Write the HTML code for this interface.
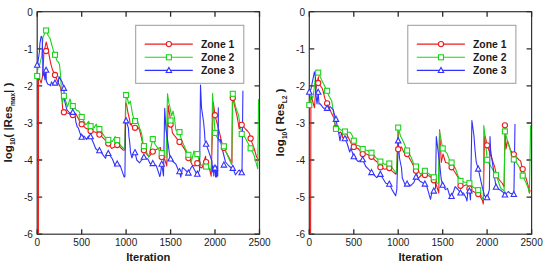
<!DOCTYPE html>
<html><head><meta charset="utf-8"><style>
html,body{margin:0;padding:0;background:#fff;}
body{width:544px;height:265px;overflow:hidden;}
svg{display:block;}
text{font-family:"Liberation Sans",sans-serif;fill:#1a1a1a;}
.tl{font-size:10px;}
.ax{font-size:11.2px;font-weight:bold;}
.lg{font-size:10.4px;font-weight:bold;}
.yl{font-size:11.6px;font-weight:bold;}
.sub{font-size:6.6px;}
</style></head><body>
<svg width="544" height="265" viewBox="0 0 544 265">
<rect width="544" height="265" fill="#fff"/>
<rect x="37.2" y="11.7" width="222.3" height="222.5" fill="none" stroke="#333" stroke-width="1.2"/>
<path d="M37.2 234.2V229.2M37.2 11.7V16.7M81.7 234.2V229.2M81.7 11.7V16.7M126.1 234.2V229.2M126.1 11.7V16.7M170.6 234.2V229.2M170.6 11.7V16.7M215.0 234.2V229.2M215.0 11.7V16.7M259.5 234.2V229.2M259.5 11.7V16.7M37.2 11.7H42.2M259.5 11.7H254.5M37.2 48.8H42.2M259.5 48.8H254.5M37.2 85.9H42.2M259.5 85.9H254.5M37.2 123.0H42.2M259.5 123.0H254.5M37.2 160.0H42.2M259.5 160.0H254.5M37.2 197.1H42.2M259.5 197.1H254.5M37.2 234.2H42.2M259.5 234.2H254.5" stroke="#2b2b2b" stroke-width="1.3" fill="none"/>
<g fill="none" stroke-width="1.1" stroke-linejoin="round">
<polyline stroke="#ec1c1c" points="38.4,233.6 38.5,76.5 41.2,83.0 42.6,75.8 44.0,52.0 46.2,42.0 48.2,50.0 49.0,54.7 50.8,63.8 52.6,70.1 55.0,75.0 58.0,82.3 60.5,87.5 61.8,95.0 62.6,108.2 64.0,112.6 67.5,113.0 70.0,114.0 72.6,115.1 75.9,113.7 79.4,120.7 81.6,124.1 85.8,128.3 88.0,129.0 90.6,131.0 94.2,131.8 97.0,133.0 99.5,134.6 102.6,137.3 106.0,141.0 108.4,143.6 111.7,148.5 114.5,147.0 117.2,145.0 120.0,147.0 123.5,150.3 124.8,150.0 125.6,102.8 126.5,104.0 128.0,113.0 129.5,119.0 130.3,125.0 131.2,123.5 132.2,126.5 135.0,127.8 137.5,126.5 139.6,130.0 141.6,138.4 143.9,150.3 146.5,154.0 149.3,156.5 152.8,151.6 156.3,149.5 160.5,147.5 161.0,154.0 161.7,157.2 164.7,159.3 166.8,166.0 168.2,105.5 170.6,120.1 172.4,132.8 174.5,135.6 179.5,141.9 182.2,145.4 185.6,150.9 187.5,157.0 189.6,159.6 192.4,165.2 195.0,166.0 197.3,163.1 199.4,159.0 200.0,167.3 202.0,168.0 205.6,156.2 206.3,163.8 209.8,170.1 211.2,176.2 213.3,102.4 215.2,116.4 217.5,124.8 220.3,136.0 222.4,145.0 224.0,148.0 226.0,152.0 232.0,163.1 232.4,96.2 237.1,116.4 239.2,129.0 241.8,124.8 245.5,129.0 247.6,131.0 249.6,133.8 250.8,139.4 254.0,148.0 256.6,157.0 259.2,161.0"/>
<polyline stroke="#1ad41a" points="36.9,76.3 38.5,63.5 39.4,66.0 41.7,56.0 43.0,37.0 44.4,34.3 46.2,30.3 48.0,35.2 49.9,38.0 50.8,41.0 52.1,46.1 53.8,51.8 55.2,55.3 57.1,61.1 58.3,62.0 59.5,64.5 60.4,73.0 60.9,80.0 61.4,92.6 62.0,100.0 62.6,102.6 64.0,95.3 67.5,106.8 70.0,99.0 71.7,105.4 72.8,106.0 76.6,110.2 78.7,111.0 81.7,117.1 85.8,124.8 88.6,121.3 90.6,126.2 94.2,127.6 96.3,124.1 97.7,128.3 99.5,129.0 103.3,134.6 106.1,138.7 108.4,139.9 112.4,141.5 115.2,136.6 117.2,140.1 120.1,145.0 123.5,148.5 124.8,148.0 126.1,94.9 127.5,99.0 128.8,104.0 130.3,101.0 131.5,108.0 132.6,114.6 134.0,119.0 135.0,121.0 137.5,121.0 139.6,128.0 141.6,133.5 143.0,142.6 143.9,146.1 146.5,152.0 148.6,157.2 152.8,139.1 155.5,145.0 160.5,151.6 161.7,153.0 164.7,157.2 166.1,157.0 167.5,93.7 168.9,103.4 169.6,105.6 171.6,116.0 173.0,111.1 174.5,118.0 175.8,130.0 179.5,132.1 181.5,140.0 187.0,152.3 188.4,154.9 191.2,162.1 194.0,151.0 197.3,154.1 199.4,161.0 201.0,165.0 206.2,166.6 208.5,167.5 211.2,170.1 212.6,93.4 213.5,110.0 215.1,133.8 218.9,140.1 220.0,142.0 224.0,146.4 226.0,152.0 231.5,164.5 232.9,93.6 235.7,107.3 238.5,115.0 241.8,134.5 245.0,137.3 250.7,148.5 254.0,155.0 257.7,168.7 258.6,99.0"/>
<polyline stroke="#3232ff" points="37.2,65.1 38.1,61.0 39.4,52.0 39.9,43.4 41.2,36.2 42.2,38.0 42.6,52.0 43.0,76.0 44.0,72.0 45.0,80.0 45.5,71.0 46.1,70.2 46.3,81.0 47.6,84.0 49.9,85.0 50.3,85.8 51.5,81.8 52.9,84.2 55.0,83.0 58.0,84.2 59.0,76.6 62.3,82.3 63.9,88.4 64.2,95.0 64.0,98.4 66.8,109.6 69.6,113.0 72.8,112.3 75.2,116.5 75.9,122.1 77.3,127.0 78.2,127.6 80.0,133.0 81.7,137.3 84.0,136.0 86.5,139.4 88.5,136.0 90.6,136.6 93.5,143.0 95.6,148.5 97.0,149.9 99.5,150.6 102.0,153.4 105.4,158.3 107.5,152.7 108.4,153.4 112.4,159.0 115.2,166.0 117.2,163.9 120.0,165.4 121.5,169.4 124.2,177.1 124.9,176.5 125.6,120.6 126.1,120.7 128.4,128.0 129.0,137.0 129.8,143.0 130.5,152.3 131.9,157.9 133.3,154.0 135.0,152.5 136.8,160.0 139.6,162.8 141.6,160.0 143.0,159.0 143.9,157.2 147.9,159.0 150.0,163.5 152.8,163.5 156.3,165.6 159.8,176.5 160.5,174.0 161.7,164.0 163.5,176.0 164.7,108.3 166.0,130.0 168.2,144.0 169.6,155.0 170.6,159.0 173.5,162.0 175.9,164.2 178.7,171.0 179.5,171.6 180.8,177.2 182.5,167.5 185.0,169.6 188.4,173.0 191.0,167.8 192.4,165.7 196.0,172.7 197.3,174.1 198.7,172.0 199.6,170.0 200.5,85.0 201.5,107.6 203.6,122.0 204.5,132.0 205.0,140.8 206.2,144.3 208.4,150.6 211.9,161.0 212.6,172.0 213.2,166.0 213.8,176.0 214.4,167.0 215.1,168.0 215.6,177.0 216.2,166.0 216.7,177.0 217.2,167.0 217.7,176.0 218.3,107.8 218.4,140.0 220.3,139.4 222.0,148.0 224.0,156.0 225.5,162.0 229.0,166.0 231.5,168.0 232.9,168.3 235.4,174.9 239.0,170.0 242.0,173.0 242.9,90.8"/>
</g>
<g fill="#fff" stroke="#ec1c1c" stroke-width="1.1"><circle cx="46.1" cy="51.0" r="2.6"/><circle cx="55.0" cy="75.0" r="2.6"/><circle cx="63.9" cy="112.2" r="2.6"/><circle cx="72.8" cy="115.0" r="2.6"/><circle cx="81.7" cy="124.2" r="2.6"/><circle cx="90.6" cy="131.0" r="2.6"/><circle cx="99.4" cy="134.6" r="2.6"/><circle cx="108.3" cy="143.5" r="2.6"/><circle cx="117.2" cy="145.0" r="2.6"/><circle cx="135.0" cy="127.8" r="2.6"/><circle cx="143.9" cy="150.3" r="2.6"/><circle cx="152.8" cy="151.6" r="2.6"/><circle cx="161.7" cy="157.1" r="2.6"/><circle cx="170.6" cy="124.5" r="2.6"/><circle cx="179.5" cy="141.9" r="2.6"/><circle cx="188.4" cy="158.1" r="2.6"/><circle cx="197.3" cy="163.2" r="2.6"/><circle cx="206.1" cy="162.1" r="2.6"/><circle cx="215.0" cy="115.2" r="2.6"/><circle cx="223.9" cy="147.9" r="2.6"/><circle cx="232.8" cy="98.0" r="2.6"/><circle cx="241.7" cy="124.9" r="2.6"/><circle cx="250.6" cy="138.5" r="2.6"/></g>
<g fill="#fff" stroke="#1ad41a" stroke-width="1.1"><rect x="34.7" y="73.5" width="5" height="5"/><rect x="43.6" y="28.0" width="5" height="5"/><rect x="52.5" y="52.3" width="5" height="5"/><rect x="61.4" y="93.4" width="5" height="5"/><rect x="70.3" y="103.5" width="5" height="5"/><rect x="79.2" y="114.5" width="5" height="5"/><rect x="88.1" y="123.6" width="5" height="5"/><rect x="96.9" y="126.5" width="5" height="5"/><rect x="105.8" y="137.4" width="5" height="5"/><rect x="114.7" y="137.6" width="5" height="5"/><rect x="123.6" y="92.5" width="5" height="5"/><rect x="132.5" y="118.5" width="5" height="5"/><rect x="141.4" y="143.6" width="5" height="5"/><rect x="150.3" y="136.6" width="5" height="5"/><rect x="159.2" y="150.5" width="5" height="5"/><rect x="168.1" y="118.0" width="5" height="5"/><rect x="177.0" y="129.6" width="5" height="5"/><rect x="185.9" y="152.3" width="5" height="5"/><rect x="194.8" y="151.6" width="5" height="5"/><rect x="203.6" y="164.1" width="5" height="5"/><rect x="212.5" y="130.4" width="5" height="5"/><rect x="221.4" y="143.8" width="5" height="5"/><rect x="230.3" y="91.3" width="5" height="5"/><rect x="239.2" y="131.5" width="5" height="5"/><rect x="248.1" y="145.8" width="5" height="5"/></g>
<g fill="#fff" stroke="#3232ff" stroke-width="1.1"><path d="M37.2 62.1L39.9 67.2L34.5 67.2Z"/><path d="M46.1 67.2L48.8 72.3L43.4 72.3Z"/><path d="M55.0 80.0L57.7 85.1L52.3 85.1Z"/><path d="M63.9 85.3L66.6 90.4L61.2 90.4Z"/><path d="M72.8 109.3L75.5 114.4L70.1 114.4Z"/><path d="M81.7 134.2L84.4 139.3L79.0 139.3Z"/><path d="M90.6 133.6L93.3 138.7L87.9 138.7Z"/><path d="M99.4 147.6L102.1 152.7L96.7 152.7Z"/><path d="M108.3 150.4L111.0 155.5L105.6 155.5Z"/><path d="M117.2 160.9L119.9 166.0L114.5 166.0Z"/><path d="M126.1 117.8L128.8 122.9L123.4 122.9Z"/><path d="M135.0 149.6L137.7 154.7L132.3 154.7Z"/><path d="M143.9 154.2L146.6 159.3L141.2 159.3Z"/><path d="M152.8 160.5L155.5 165.6L150.1 165.6Z"/><path d="M161.7 161.1L164.4 166.2L159.0 166.2Z"/><path d="M170.6 155.9L173.3 161.0L167.9 161.0Z"/><path d="M179.5 168.6L182.2 173.7L176.8 173.7Z"/><path d="M188.4 170.0L191.1 175.1L185.7 175.1Z"/><path d="M197.3 171.1L200.0 176.2L194.6 176.2Z"/><path d="M206.1 141.1L208.8 146.2L203.4 146.2Z"/><path d="M215.0 164.9L217.7 170.0L212.3 170.0Z"/><path d="M223.9 162.0L226.6 167.1L221.2 167.1Z"/><path d="M232.8 165.3L235.5 170.4L230.1 170.4Z"/><path d="M241.7 169.7L244.4 174.8L239.0 174.8Z"/></g>
<text x="37.2" y="245.5" text-anchor="middle" class="tl">0</text>
<text x="81.7" y="245.5" text-anchor="middle" class="tl">500</text>
<text x="126.1" y="245.5" text-anchor="middle" class="tl">1000</text>
<text x="170.6" y="245.5" text-anchor="middle" class="tl">1500</text>
<text x="215.0" y="245.5" text-anchor="middle" class="tl">2000</text>
<text x="259.5" y="245.5" text-anchor="middle" class="tl">2500</text>
<text x="32.9" y="15.8" text-anchor="end" class="tl">0</text>
<text x="32.9" y="52.9" text-anchor="end" class="tl">-1</text>
<text x="32.9" y="90.0" text-anchor="end" class="tl">-2</text>
<text x="32.9" y="127.0" text-anchor="end" class="tl">-3</text>
<text x="32.9" y="164.1" text-anchor="end" class="tl">-4</text>
<text x="32.9" y="201.2" text-anchor="end" class="tl">-5</text>
<text x="32.9" y="238.3" text-anchor="end" class="tl">-6</text>
<text x="148.3" y="260.5" text-anchor="middle" class="ax">Iteration</text>
<text transform="translate(12.3,122.5) rotate(-90)" text-anchor="middle" class="yl">log<tspan class="sub" dy="3">10</tspan><tspan dy="-3">( |Res</tspan><tspan class="sub" dy="3">max</tspan><tspan dy="-3">| )</tspan></text>
<rect x="135.7" y="25.3" width="108.1" height="58" fill="#fff" stroke="#9a9a9a" stroke-width="1"/>
<path d="M144.7 44.1H192.8" stroke="#ec1c1c" stroke-width="1.1"/>
<circle cx="168.9" cy="44.1" r="2.6" fill="#fff" stroke="#ec1c1c" stroke-width="1.1"/>
<text x="200.9" y="47.7" class="lg">Zone 1</text>
<path d="M144.7 57.2H192.8" stroke="#1ad41a" stroke-width="1.1"/>
<rect x="166.4" y="54.8" width="5" height="5" fill="#fff" stroke="#1ad41a" stroke-width="1.1"/>
<text x="200.9" y="60.9" class="lg">Zone 2</text>
<path d="M144.7 70.4H192.8" stroke="#3232ff" stroke-width="1.1"/>
<path d="M168.9 67.4L171.6 72.5L166.2 72.5Z" fill="#fff" stroke="#3232ff" stroke-width="1.1"/>
<text x="200.9" y="74.0" class="lg">Zone 3</text>
<rect x="309.3" y="11.7" width="222.3" height="222.5" fill="none" stroke="#333" stroke-width="1.2"/>
<path d="M309.3 234.2V229.2M309.3 11.7V16.7M353.8 234.2V229.2M353.8 11.7V16.7M398.2 234.2V229.2M398.2 11.7V16.7M442.7 234.2V229.2M442.7 11.7V16.7M487.1 234.2V229.2M487.1 11.7V16.7M531.6 234.2V229.2M531.6 11.7V16.7M309.3 11.7H314.3M531.6 11.7H526.6M309.3 48.8H314.3M531.6 48.8H526.6M309.3 85.9H314.3M531.6 85.9H526.6M309.3 123.0H314.3M531.6 123.0H526.6M309.3 160.0H314.3M531.6 160.0H526.6M309.3 197.1H314.3M531.6 197.1H526.6M309.3 234.2H314.3M531.6 234.2H526.6" stroke="#2b2b2b" stroke-width="1.3" fill="none"/>
<g fill="none" stroke-width="1.1" stroke-linejoin="round">
<polyline stroke="#ec1c1c" points="310.6,233.6 310.9,100.0 311.1,95.3 314.5,107.8 315.6,90.8 316.8,84.0 318.5,76.8 318.3,83.0 322.0,88.0 322.8,90.0 324.9,98.4 327.1,103.3 329.0,107.0 331.1,112.3 334.0,118.0 335.0,125.0 336.0,128.0 339.3,133.2 340.5,132.0 343.5,136.0 347.6,136.0 351.0,143.0 353.8,147.0 358.0,148.4 362.6,154.0 366.5,154.0 371.5,156.8 375.0,160.3 378.4,163.0 380.4,167.2 384.7,169.3 389.3,168.0 392.4,171.4 395.9,174.2 396.6,173.0 398.2,130.0 398.3,149.2 401.5,147.0 404.0,152.6 407.1,154.0 411.0,161.0 416.0,170.7 418.0,178.5 421.5,175.0 424.9,175.0 429.5,176.0 433.0,179.0 436.0,184.0 438.8,193.0 439.6,129.7 441.3,162.5 443.0,154.0 445.5,162.5 448.0,163.0 451.6,167.3 455.5,173.0 459.0,179.0 460.5,186.0 463.5,186.0 467.0,184.6 469.8,189.4 474.7,192.2 478.9,194.3 482.4,200.6 483.3,204.0 484.5,137.0 485.2,136.0 487.2,145.6 489.4,151.5 491.8,158.5 494.7,167.0 496.1,173.0 499.4,180.0 502.4,183.5 504.1,187.0 505.0,125.3 505.5,135.0 506.0,149.0 507.6,141.0 510.6,150.3 513.9,154.4 518.8,159.7 520.6,160.9 521.8,166.0 522.8,169.4 525.9,177.6 528.2,185.9 529.4,193.0 530.2,190.0"/>
<polyline stroke="#1ad41a" points="309.3,105.0 311.0,95.0 312.8,98.2 314.0,90.0 315.8,74.0 318.2,72.6 321.4,79.6 323.5,83.7 327.1,90.8 328.6,95.3 331.8,101.2 333.2,111.0 334.5,120.0 336.0,129.0 338.6,128.3 341.0,130.0 344.9,131.5 350.4,132.5 352.5,136.0 353.8,140.8 356.0,145.0 359.5,146.0 362.6,149.0 367.2,150.5 371.5,152.6 376.3,158.2 380.4,161.6 384.7,164.4 389.3,163.5 392.4,168.0 395.9,172.8 396.6,172.5 398.2,127.6 400.5,136.0 403.3,141.5 407.1,150.5 411.0,157.0 414.7,166.5 416.0,166.5 420.4,174.3 424.9,170.8 429.5,174.3 433.8,177.3 437.0,183.2 438.4,183.0 439.5,131.0 442.7,148.5 447.0,153.4 449.7,160.4 451.6,162.5 455.3,168.0 458.0,175.7 460.5,181.0 464.3,182.0 469.4,183.2 473.3,187.3 478.3,190.1 481.7,197.0 483.3,199.4 483.8,125.5 485.5,140.0 487.2,160.5 490.0,165.0 496.1,175.3 498.2,181.0 500.6,188.0 504.1,190.9 505.0,131.4 508.8,145.6 511.8,155.0 513.9,159.7 517.6,164.4 520.0,168.2 522.8,175.9 525.9,182.4 528.2,188.2 529.4,193.2 530.6,125.3"/>
<polyline stroke="#3232ff" points="309.3,92.1 310.9,89.3 314.4,71.9 315.5,78.0 316.0,95.0 317.0,104.0 318.2,92.1 319.0,104.0 320.2,103.8 323.5,108.2 327.1,108.3 330.4,106.8 333.2,109.6 335.3,118.0 336.0,119.3 337.4,127.0 338.5,131.7 340.0,140.8 341.4,133.2 344.9,138.7 347.0,143.0 349.7,152.0 351.0,148.4 353.8,156.8 358.2,161.6 362.6,159.6 365.8,166.5 368.0,168.6 371.5,172.5 376.8,177.7 380.4,174.2 383.7,179.8 385.8,183.3 389.3,184.0 392.0,189.6 395.6,195.8 396.8,190.0 398.2,141.4 399.5,158.0 401.5,168.0 402.3,178.0 405.4,185.4 407.1,184.0 411.0,185.4 413.8,182.6 416.0,177.0 420.0,181.2 424.9,184.0 427.0,186.8 430.5,199.3 431.9,192.4 433.8,191.0 435.5,188.0 436.3,136.6 439.8,165.0 441.2,179.0 442.7,185.3 445.5,189.6 447.5,188.4 449.5,195.0 451.6,196.4 453.7,191.0 455.1,186.6 458.0,189.5 460.5,193.0 463.5,193.0 466.3,198.5 467.0,201.0 467.7,193.0 469.4,190.8 470.5,200.0 471.9,120.6 474.0,136.0 475.0,150.0 476.2,161.8 478.3,169.2 481.7,184.6 484.5,195.7 487.2,197.6 488.6,192.5 489.4,189.6 490.0,136.6 490.6,150.0 494.1,174.1 496.1,187.6 500.6,190.3 503.0,192.1 505.0,195.0 508.2,191.5 510.0,193.2 513.9,194.4 515.0,124.1"/>
</g>
<g fill="#fff" stroke="#ec1c1c" stroke-width="1.1"><circle cx="318.2" cy="83.0" r="2.6"/><circle cx="327.1" cy="103.3" r="2.6"/><circle cx="336.0" cy="127.9" r="2.6"/><circle cx="344.9" cy="136.0" r="2.6"/><circle cx="353.8" cy="146.9" r="2.6"/><circle cx="362.7" cy="154.0" r="2.6"/><circle cx="371.5" cy="156.8" r="2.6"/><circle cx="380.4" cy="167.2" r="2.6"/><circle cx="389.3" cy="168.0" r="2.6"/><circle cx="398.2" cy="149.2" r="2.6"/><circle cx="407.1" cy="154.0" r="2.6"/><circle cx="416.0" cy="170.7" r="2.6"/><circle cx="424.9" cy="175.0" r="2.6"/><circle cx="433.8" cy="180.3" r="2.6"/><circle cx="451.6" cy="167.3" r="2.6"/><circle cx="460.5" cy="185.8" r="2.6"/><circle cx="469.4" cy="188.6" r="2.6"/><circle cx="478.2" cy="194.0" r="2.6"/><circle cx="487.1" cy="145.3" r="2.6"/><circle cx="504.9" cy="125.3" r="2.6"/><circle cx="513.8" cy="154.3" r="2.6"/><circle cx="522.7" cy="169.1" r="2.6"/></g>
<g fill="#fff" stroke="#1ad41a" stroke-width="1.1"><rect x="306.8" y="102.5" width="5" height="5"/><rect x="315.7" y="70.1" width="5" height="5"/><rect x="324.6" y="88.3" width="5" height="5"/><rect x="333.5" y="126.4" width="5" height="5"/><rect x="342.4" y="129.0" width="5" height="5"/><rect x="351.3" y="138.2" width="5" height="5"/><rect x="360.2" y="146.5" width="5" height="5"/><rect x="369.0" y="150.2" width="5" height="5"/><rect x="377.9" y="159.1" width="5" height="5"/><rect x="386.8" y="161.0" width="5" height="5"/><rect x="395.7" y="125.1" width="5" height="5"/><rect x="404.6" y="148.0" width="5" height="5"/><rect x="413.5" y="164.0" width="5" height="5"/><rect x="422.4" y="168.3" width="5" height="5"/><rect x="431.3" y="174.8" width="5" height="5"/><rect x="440.2" y="145.9" width="5" height="5"/><rect x="449.1" y="160.0" width="5" height="5"/><rect x="458.0" y="178.4" width="5" height="5"/><rect x="466.9" y="180.7" width="5" height="5"/><rect x="475.7" y="187.6" width="5" height="5"/><rect x="484.6" y="157.3" width="5" height="5"/><rect x="493.5" y="172.7" width="5" height="5"/><rect x="502.4" y="128.9" width="5" height="5"/><rect x="511.3" y="157.0" width="5" height="5"/><rect x="520.2" y="173.1" width="5" height="5"/></g>
<g fill="#fff" stroke="#3232ff" stroke-width="1.1"><path d="M309.3 89.1L312.0 94.2L306.6 94.2Z"/><path d="M318.2 89.2L320.9 94.3L315.5 94.3Z"/><path d="M327.1 105.3L329.8 110.4L324.4 110.4Z"/><path d="M336.0 116.3L338.7 121.4L333.3 121.4Z"/><path d="M344.9 135.6L347.6 140.7L342.2 140.7Z"/><path d="M353.8 153.7L356.5 158.8L351.1 158.8Z"/><path d="M362.7 156.7L365.4 161.8L360.0 161.8Z"/><path d="M371.5 169.5L374.2 174.6L368.8 174.6Z"/><path d="M380.4 171.3L383.1 176.4L377.7 176.4Z"/><path d="M389.3 181.1L392.0 186.2L386.6 186.2Z"/><path d="M398.2 137.8L400.9 142.9L395.5 142.9Z"/><path d="M407.1 181.0L409.8 186.1L404.4 186.1Z"/><path d="M416.0 174.0L418.7 179.1L413.3 179.1Z"/><path d="M424.9 181.0L427.6 186.1L422.2 186.1Z"/><path d="M433.8 188.0L436.5 193.1L431.1 193.1Z"/><path d="M442.7 182.2L445.4 187.3L440.0 187.3Z"/><path d="M451.6 193.4L454.3 198.5L448.9 198.5Z"/><path d="M460.5 189.9L463.2 195.0L457.8 195.0Z"/><path d="M469.4 187.9L472.1 193.0L466.7 193.0Z"/><path d="M478.2 166.0L480.9 171.1L475.5 171.1Z"/><path d="M487.1 194.6L489.8 199.7L484.4 199.7Z"/><path d="M496.0 184.1L498.7 189.2L493.3 189.2Z"/><path d="M504.9 191.9L507.6 197.0L502.2 197.0Z"/><path d="M513.8 191.4L516.5 196.5L511.1 196.5Z"/></g>
<text x="309.3" y="245.5" text-anchor="middle" class="tl">0</text>
<text x="353.8" y="245.5" text-anchor="middle" class="tl">500</text>
<text x="398.2" y="245.5" text-anchor="middle" class="tl">1000</text>
<text x="442.7" y="245.5" text-anchor="middle" class="tl">1500</text>
<text x="487.1" y="245.5" text-anchor="middle" class="tl">2000</text>
<text x="531.6" y="245.5" text-anchor="middle" class="tl">2500</text>
<text x="305.0" y="15.8" text-anchor="end" class="tl">0</text>
<text x="305.0" y="52.9" text-anchor="end" class="tl">-1</text>
<text x="305.0" y="90.0" text-anchor="end" class="tl">-2</text>
<text x="305.0" y="127.0" text-anchor="end" class="tl">-3</text>
<text x="305.0" y="164.1" text-anchor="end" class="tl">-4</text>
<text x="305.0" y="201.2" text-anchor="end" class="tl">-5</text>
<text x="305.0" y="238.3" text-anchor="end" class="tl">-6</text>
<text x="420.5" y="260.5" text-anchor="middle" class="ax">Iteration</text>
<text transform="translate(284.4,122.5) rotate(-90)" text-anchor="middle" class="yl">log<tspan class="sub" dy="3">10</tspan><tspan dy="-3">( Res</tspan><tspan class="sub" dy="3">L2</tspan><tspan dy="-3"> )</tspan></text>
<rect x="407.8" y="25.3" width="108.1" height="58" fill="#fff" stroke="#9a9a9a" stroke-width="1"/>
<path d="M416.8 44.1H464.9" stroke="#ec1c1c" stroke-width="1.1"/>
<circle cx="441.0" cy="44.1" r="2.6" fill="#fff" stroke="#ec1c1c" stroke-width="1.1"/>
<text x="473.0" y="47.7" class="lg">Zone 1</text>
<path d="M416.8 57.2H464.9" stroke="#1ad41a" stroke-width="1.1"/>
<rect x="438.5" y="54.8" width="5" height="5" fill="#fff" stroke="#1ad41a" stroke-width="1.1"/>
<text x="473.0" y="60.9" class="lg">Zone 2</text>
<path d="M416.8 70.4H464.9" stroke="#3232ff" stroke-width="1.1"/>
<path d="M441.0 67.4L443.7 72.5L438.3 72.5Z" fill="#fff" stroke="#3232ff" stroke-width="1.1"/>
<text x="473.0" y="74.0" class="lg">Zone 3</text>
</svg>
</body></html>
